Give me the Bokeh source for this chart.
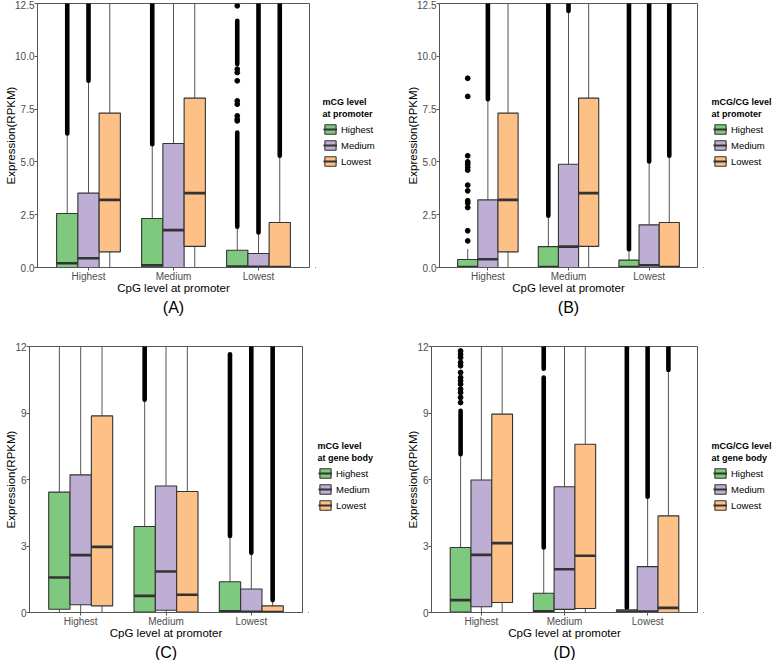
from bokeh.plotting import figure
from bokeh.models import Range1d, FixedTicker, Legend, LegendItem, Label, Title, GlobalInlineStyleSheet
from bokeh.layouts import column, row
from bokeh.embed import file_html
from bokeh.resources import INLINE

FONT = "Liberation Sans"

groups = ["Highest", "Medium", "Lowest"]          # CpG level at promoter
series = ["Highest", "Medium", "Lowest"]          # methylation level
colors = ["#7fc97f", "#beaed4", "#fdc086"]

# ---------------- Panel A : mCG level at promoter ----------------
# rows = series (Highest, Medium, Lowest), cols = CpG groups
A_lower = [[0, 0, 0], [0, 0, 0], [0, 0, 0]]
A_q1 = [[0.0, 0.0, 0.0], [0.0, 0.0, 0.0], [0.74, 1.0, 0.0]]
A_median = [[0.2, 0.1, 0.04], [0.44, 1.77, 0.03], [3.2, 3.52, 0.02]]
A_q3 = [[2.56, 2.32, 0.82], [3.52, 5.87, 0.66], [7.31, 8.02, 2.13]]
A_upper = [[6.35, 5.84, 1.93], [8.84, 16.0, 1.66], [16.0, 16.0, 5.29]]
A_dense = [(0, 0, 6.35, 13.0), (0, 1, 5.84, 13.0), (0, 2, 1.93, 6.39), (0, 2, 9.63, 11.68),
           (1, 0, 8.84, 13.0), (1, 2, 1.66, 13.0), (2, 2, 5.29, 13.0)]
A_sparse = [(0, 2, [12.39, 9.39, 9.23, 8.84, 7.89, 7.73, 7.18, 7.02, 6.94])]

# ---------------- Panel B : mCG/CG level at promoter ----------------
B_lower = [[0, 0, 0], [0, 0, 0], [0, 0, 0]]
B_q1 = [[0.0, 0.0, 0.0], [0.0, 0.0, 0.0], [0.74, 1.0, 0.0]]
B_median = [[0.02, 0.02, 0.02], [0.39, 0.99, 0.11], [3.2, 3.52, 0.02]]
B_q3 = [[0.38, 0.99, 0.35], [3.2, 4.89, 2.02], [7.31, 8.02, 2.13]]
B_upper = [[0.87, 2.45, 0.87], [7.97, 12.15, 5.02], [16.0, 16.0, 5.29]]
B_dense = [(0, 1, 2.45, 13.0), (0, 2, 0.87, 13.0), (1, 0, 7.97, 13.0), (1, 1, 12.15, 13.0),
           (1, 2, 5.02, 13.0), (2, 2, 5.29, 13.0)]
B_sparse = [(0, 0, [8.96, 8.1, 5.29, 5.0, 4.89, 4.75, 4.61, 3.9, 3.63, 3.16, 3.05, 2.84, 1.74, 1.26])]

# ---------------- Panel C : mCG level at gene body ----------------
C_lower = [[0, 0, 0], [0, 0, 0], [0, 0, 0]]
C_q1 = [[0.15, 0.02, 0.02], [0.35, 0.1, 0.02], [0.3, 0.02, 0.0]]
C_median = [[1.58, 0.75, 0.05], [2.59, 1.85, 0.03], [2.96, 0.8, 0.02]]
C_q3 = [[5.43, 3.88, 1.39], [6.21, 5.71, 1.06], [8.87, 5.46, 0.3]]
C_upper = [[16.0, 9.6, 3.45], [16.0, 16.0, 2.69], [16.0, 16.0, 0.56]]
C_dense = [(0, 1, 9.6, 12.5), (0, 2, 3.45, 11.65), (1, 2, 2.69, 12.5), (2, 2, 0.56, 12.5)]
C_sparse = []

# ---------------- Panel D : mCG/CG level at gene body ----------------
D_lower = [[0, 0, 0], [0, 0, 0], [0, 0, 0]]
D_q1 = [[0.02, 0.02, 0.0], [0.26, 0.14, 0.0], [0.45, 0.18, 0.0]]
D_median = [[0.56, 0.05, 0.03], [2.6, 1.95, 0.04], [3.13, 2.56, 0.21]]
D_q3 = [[2.93, 0.87, 0.12], [5.98, 5.67, 2.07], [8.95, 7.59, 4.36]]
D_upper = [[7.14, 2.93, 0.2], [16.0, 16.0, 5.22], [16.0, 16.0, 10.94]]
D_dense = [(0, 0, 7.14, 9.1), (0, 1, 2.93, 10.6), (0, 1, 11.0, 12.5), (0, 2, 0.2, 12.5),
           (1, 2, 5.22, 12.5), (2, 2, 10.94, 12.5)]
D_sparse = [(0, 0, [9.47, 9.7, 9.92, 10.08, 10.3, 10.45, 10.6, 10.83, 11.13, 11.28, 11.5, 11.65, 11.8])]

AB_yticks = [0, 2.5, 5, 7.5, 10, 12.5]
AB_ylabels = ["0.0", "2.5", "5.0", "7.5", "10.0", "12.5"]
CD_yticks = [0, 3, 6, 9, 12]
CD_ylabels = ["0", "3", "6", "9", "12"]

x_title = "CpG level at promoter"
y_title = "Expression(RPKM)"


def no_align(fig):
    try:
        fig.frame_align = False
    except Exception:
        pass


def make_panel(letter, lower, q1, med, q3, upper, dense, sparse, ymax, yticks, ylabels,
               W, H, bl, br, bt, bb):
    p = figure(width=W, height=H, x_range=Range1d(0.4, 3.6), y_range=Range1d(0, ymax),
               output_backend="svg", toolbar_location=None,
               min_border_left=bl, min_border_right=br, min_border_top=bt, min_border_bottom=bb,
               background_fill_color="white", border_fill_color="white")
    no_align(p)
    p.xgrid.visible = False
    p.ygrid.visible = False
    p.outline_line_color = "#555555"

    for s in range(3):
        xs = [g + 1 + (s - 1) * 0.25 for g in range(3)]
        p.segment(x0=xs, y0=q3[s], x1=xs, y1=upper[s], line_color="#555555", line_width=1)
        p.segment(x0=xs, y0=lower[s], x1=xs, y1=q1[s], line_color="#555555", line_width=1)
    for (s, g, lo, hi) in dense:
        x = g + 1 + (s - 1) * 0.25
        p.segment(x0=[x], y0=[lo], x1=[x], y1=[hi], line_color="black", line_width=4.6,
                  line_cap="round")
    for (s, g, vals) in sparse:
        x = g + 1 + (s - 1) * 0.25
        p.scatter(x=[x] * len(vals), y=vals, size=4.8, color="black")
    for s in range(3):
        xs = [g + 1 + (s - 1) * 0.25 for g in range(3)]
        p.vbar(x=xs, width=0.25, bottom=q1[s], top=q3[s], fill_color=colors[s],
               line_color="#333333", line_width=1.1)
        p.segment(x0=[x - 0.125 for x in xs], y0=med[s], x1=[x + 0.125 for x in xs],
                  y1=med[s], line_color="#333333", line_width=2.6)

    p.xaxis.ticker = FixedTicker(ticks=[1, 2, 3])
    p.xaxis.major_label_overrides = {i + 1: g for i, g in enumerate(groups)}
    p.yaxis.ticker = FixedTicker(ticks=yticks)
    p.yaxis.major_label_overrides = {t: l for t, l in zip(yticks, ylabels)}
    for ax in (p.xaxis[0], p.yaxis[0]):
        ax.axis_line_color = "#555555"
        ax.major_tick_line_color = "#555555"
        ax.major_tick_out = 3
        ax.major_tick_in = 0
        ax.minor_tick_line_color = None
        ax.major_label_text_font = FONT
        ax.major_label_text_font_size = "10px"
        ax.major_label_text_color = "#4d4d4d"
        ax.major_label_standoff = 0
        ax.axis_label_text_font = FONT
        ax.axis_label_text_font_size = "11.5px"
        ax.axis_label_text_font_style = "normal"
        ax.axis_label_text_color = "black"
    p.xaxis.axis_label_standoff = -3
    p.yaxis.axis_label_standoff = -5
    p.xaxis.axis_label = x_title
    p.yaxis.axis_label = y_title

    p.add_layout(Title(text=letter, align="center", text_font=FONT, text_font_size="16px",
                       text_font_style="normal", text_color="black", standoff=0), "below")
    return p


def make_legend(title_lines, W, H, bt, bb, tx, ty, lx, ly):
    # data units here are pixels measured up from the bottom of the figure
    q = figure(width=W, height=H, x_range=Range1d(0, W), y_range=Range1d(bb, H - bt),
               output_backend="svg", toolbar_location=None, x_axis_type=None, y_axis_type=None,
               min_border_left=0, min_border_right=0, min_border_top=bt, min_border_bottom=bb,
               outline_line_color=None,
               background_fill_color="white", border_fill_color="white")
    no_align(q)
    q.xgrid.visible = False
    q.ygrid.visible = False
    items = []
    for s in range(3):
        b = q.vbar(x=[-1000], width=1, bottom=[0], top=[1], fill_color=colors[s],
                   line_color="#333333", line_width=1.1)
        m = q.segment(x0=[-1000], y0=[0], x1=[-999], y1=[0], line_color="#333333", line_width=2)
        items.append(LegendItem(label=series[s], renderers=[b, m]))
    leg = Legend(items=items, location=(lx, ly), orientation="vertical",
                 label_text_font=FONT, label_text_font_size="9.5px", label_text_color="black",
                 glyph_width=14, glyph_height=12, label_height=16, label_standoff=4,
                 spacing=0, padding=0, margin=0, border_line_alpha=0,
                 background_fill_alpha=0)
    q.add_layout(leg)
    for i, line in enumerate(title_lines):
        q.add_layout(Label(x=tx, y=ty - 12 * i, text=line, text_align="left",
                           text_baseline="middle", text_font=FONT, text_font_size="9px",
                           text_font_style="bold", text_color="black"))
    return q


pA = make_panel("(A)", A_lower, A_q1, A_median, A_q3, A_upper, A_dense, A_sparse, 12.5,
                AB_yticks, AB_ylabels, 315, 330, 37, 6, 3, 63)
lA = make_legend(["mCG level", "at promoter"], 72, 330, 3, 63, 7, 229, 8, 98)
pB = make_panel("(B)", B_lower, B_q1, B_median, B_q3, B_upper, B_dense, B_sparse, 12.5,
                AB_yticks, AB_ylabels, 316, 330, 52, 6, 3, 63)
lB = make_legend(["mCG/CG level", "at promoter"], 71, 330, 3, 63, 8, 229, 10, 98)
pC = make_panel("(C)", C_lower, C_q1, C_median, C_q3, C_upper, C_dense, C_sparse, 12,
                CD_yticks, CD_ylabels, 308, 330, 29, 6, 16, 48)
lC = make_legend(["mCG level", "at gene body"], 79, 330, 16, 48, 9, 215, 10, 99)
pD = make_panel("(D)", D_lower, D_q1, D_median, D_q3, D_upper, D_dense, D_sparse, 12,
                CD_yticks, CD_ylabels, 316, 330, 44, 6, 16, 48)
lD = make_legend(["mCG/CG level", "at gene body"], 71, 330, 16, 48, 8, 215, 10, 99)

page_css = GlobalInlineStyleSheet(css="html, body { margin: 0 !important; padding: 0 !important; overflow: hidden; }")
layout = column(row(pA, lA, pB, lB), row(pC, lC, pD, lD), stylesheets=[page_css])

open("out.html", "w").write(file_html(layout, INLINE))
